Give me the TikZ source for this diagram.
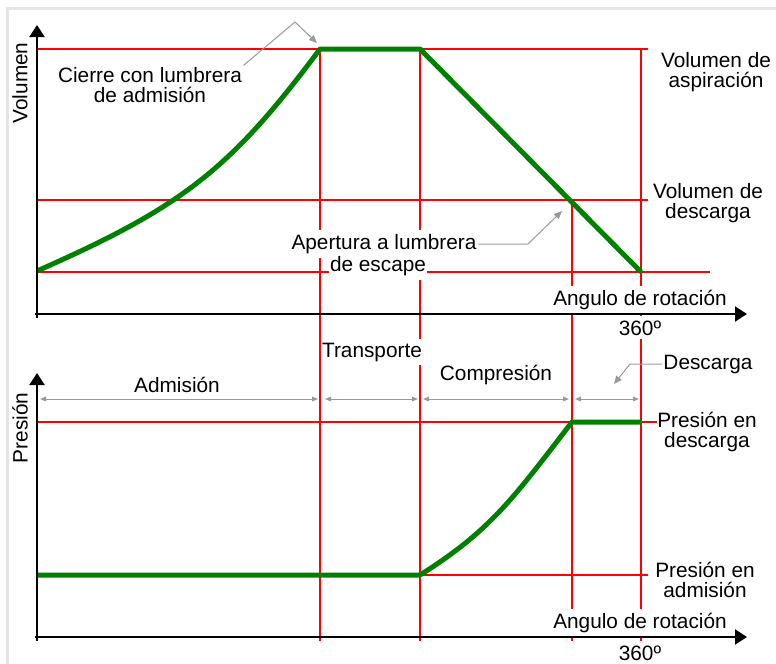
\documentclass[tikz,border=0pt]{standalone}
\usepackage{fontspec}
\setmainfont{Liberation Sans}
\usetikzlibrary{arrows.meta}

\begin{document}
\begin{tikzpicture}[x=0.75pt, y=-0.75pt,
  every node/.style={font=\fontsize{15.6}{15.5}\selectfont, inner sep=1pt},
  guia/.style={red, line width=1pt},
  curva/.style={green!50!black, line width=3.75pt, line join=round},
  eje/.style={black, line width=1.5pt, >={Triangle[width=11.25pt,length=9pt]}, ->},
  cota/.style={gray!80, line width=0.75pt, >={Triangle[width=3.5pt,length=4.5pt]}, <->},
  flecha/.style={gray!80, line width=0.75pt, >={Triangle[width=5pt,length=6pt]}, ->},
  fondo/.style={fill=white, inner ysep=3pt}]
  \useasboundingbox (0,0) rectangle (776,664);
  \draw[gray!20, line width=2.25pt] (7,664) -- (7,8) -- (776,8);

  \foreach \y/\xe in {49/648, 200/648, 272/710, 422/657, 575/648}
    \draw[guia] (37,\y) -- (\xe,\y);
  \foreach \x/\ya in {320/49, 420/49, 572/200, 641/49}
    \draw[guia] (\x,\ya) -- (\x,641);

  \draw[curva] (37,271) .. controls (182,207) and (230,170) .. (320,49)
    -- (420,49) -- (641,272);
  \draw[curva] (37,575) -- (420,575) .. controls (490,531) and (512,500) .. (572,422)
    -- (641,422);

  \draw[eje] (37,318) -- (37,25);
  \draw[eje] (35,314) -- (747,314);
  \draw[eje] (37,641) -- (37,373);
  \draw[eje] (35,637) -- (747,637);

  \foreach \a/\b in {40/318, 325/418, 423/569, 575/639}
    \draw[cota] (\a,399) -- (\b,399);

  \node[rotate=90] (etiqVol) at (20,83) {Volumen};
  \node[rotate=90] (etiqPres) at (20,428) {Presión};
  \node[align=center] (cierre) at (150,85) {Cierre con lumbrera\\de admisión};
  \node[align=center] (aspir) at (716,72) {Volumen de\\aspiración};
  \node[align=center] (descVol) at (708,203) {Volumen de\\descarga};
  \node[fondo] (apert1) at (384,244) {Apertura a lumbrera};
  \node[fondo] (apert2) at (378,266) {de escape};
  \node[fondo, anchor=base] (angSup) at (640,305) {Angulo de rotación};
  \node[fondo, anchor=base] (grSup) at (640,335) {360º};

  \node[fondo, anchor=base] (transp) at (372,357) {Transporte};
  \node[anchor=base] (admis) at (177,392) {Admisión};
  \node[anchor=base] (compr) at (496,380) {Compresión};
  \node[anchor=base] (desc) at (708,369) {Descarga};
  \node[align=center] (presDesc) at (707,432) {Presión en\\descarga};
  \node[align=center] (presAdm) at (705,580) {Presión en\\admisión};
  \node[fondo, anchor=base] (angInf) at (640,628) {Angulo de rotación};
  \node[anchor=base] (grInf) at (640,660) {360º};

  \coordinate (c1) at (295,22);
  \coordinate (c2) at (317,43);
  \draw[flecha] (cierre.north east) -- (c1) -- (c2);
  \coordinate (a1) at (528,243);
  \coordinate (a2) at (562,211);
  \draw[flecha] (apert1.east) -- (apert1.east -| a1) -- (a2);
  \coordinate (d1) at (630,367);
  \coordinate (d2) at (614,384);
  \draw[flecha] (desc.west) -- (desc.west -| d1) -- (d2);
\end{tikzpicture}
\end{document}
